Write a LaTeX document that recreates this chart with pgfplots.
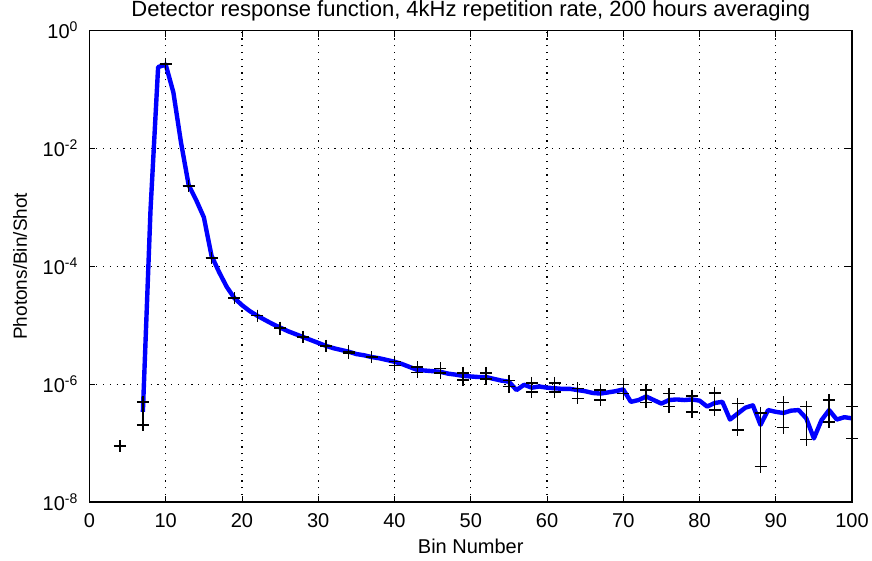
\documentclass[border=0pt]{standalone}
\usepackage{fontspec}
\setmainfont{Liberation Sans}
\usepackage{pgfplots}
\usepackage{pgfplotstable}
\pgfplotsset{compat=1.18}

% Mean detector response per bin (photons/bin/shot)
\pgfplotstableread{
bin  val
7    3.39e-7
8    8.91e-4
9    0.240
10   0.263
11   0.0891
12   0.0126
13   2.40e-3
14   1.32e-3
15   6.76e-4
16   1.51e-4
17   7.94e-5
18   4.47e-5
19   2.88e-5
20   2.19e-5
21   1.74e-5
22   1.45e-5
23   1.23e-5
24   1.05e-5
25   9.12e-6
26   7.94e-6
27   7.08e-6
28   6.31e-6
29   5.62e-6
30   5.01e-6
31   4.47e-6
32   4.07e-6
33   3.80e-6
34   3.55e-6
35   3.24e-6
36   3.09e-6
37   2.88e-6
38   2.75e-6
39   2.57e-6
40   2.40e-6
41   2.19e-6
42   1.95e-6
43   1.74e-6
44   1.70e-6
45   1.66e-6
46   1.62e-6
47   1.51e-6
48   1.45e-6
49   1.38e-6
50   1.35e-6
51   1.32e-6
52   1.32e-6
53   1.23e-6
54   1.15e-6
55   1.10e-6
56   7.94e-7
57   9.77e-7
58   8.71e-7
59   9.12e-7
60   8.71e-7
61   8.51e-7
62   8.32e-7
63   8.32e-7
64   7.94e-7
65   7.59e-7
66   7.08e-7
67   6.92e-7
68   7.24e-7
69   7.59e-7
70   8.13e-7
71   5.01e-7
72   5.37e-7
73   6.17e-7
74   5.37e-7
75   4.68e-7
76   5.37e-7
77   5.50e-7
78   5.37e-7
79   5.50e-7
80   5.25e-7
81   4.17e-7
82   4.79e-7
83   5.01e-7
84   2.51e-7
85   3.16e-7
86   3.98e-7
87   4.37e-7
88   2.04e-7
89   3.63e-7
90   3.39e-7
91   3.24e-7
92   3.55e-7
93   3.63e-7
94   2.63e-7
95   1.20e-7
96   2.45e-7
97   3.63e-7
98   2.51e-7
99   2.75e-7
100  2.63e-7
}\response

% Sampled bins: upper and lower bounds
\pgfplotstableread{
bin  hi       lo
4    8.91e-8  8.91e-8
7    5.01e-7  2.04e-7
10   0.269    0.269
13   2.29e-3  2.29e-3
16   1.38e-4  1.38e-4
19   2.88e-5  2.88e-5
22   1.45e-5  1.45e-5
25   9.12e-6  8.70e-6
28   6.31e-6  6.31e-6
31   4.47e-6  4.47e-6
34   3.60e-6  3.40e-6
37   2.88e-6  2.88e-6
40   2.40e-6  2.09e-6
43   1.95e-6  1.58e-6
46   1.86e-6  1.55e-6
49   1.55e-6  1.17e-6
52   1.55e-6  1.23e-6
55   1.15e-6  9.12e-7
58   1.05e-6  7.41e-7
61   1.05e-6  7.41e-7
64   8.51e-7  5.75e-7
67   7.94e-7  5.37e-7
70   9.77e-7  6.92e-7
73   7.94e-7  4.90e-7
76   6.92e-7  4.17e-7
79   6.31e-7  3.39e-7
82   7.08e-7  3.63e-7
85   4.68e-7  1.66e-7
88   3.24e-7  3.98e-8
91   4.90e-7  1.82e-7
94   4.17e-7  1.15e-7
97   5.37e-7  2.29e-7
100  4.17e-7  1.20e-7
}\bounds

\begin{document}
\begin{tikzpicture}
\begin{axis}[
  name=main,
  scale only axis,
  width=381.25pt, height=235.75pt,
  ymode=log,
  xmin=0, xmax=100,
  ymin=1e-8, ymax=1,
  xtick={0,10,...,100},
  ytick={1e-8,1e-6,1e-4,1e-2,1},
  yticklabels={10\textsuperscript{-8},10\textsuperscript{-6},10\textsuperscript{-4},10\textsuperscript{-2},10\textsuperscript{0}},
  minor ytick={},
  xtick pos=both, ytick pos=both,
  tick align=inside,
  major tick length=3pt,
  tick style={black, line width=0.5pt},
  axis line style={black, line width=0.6pt},
  grid=major,
  major grid style={black, line width=0.6pt, dash pattern=on 0.6pt off 2.8pt},
  font=\fontsize{9.5}{11}\selectfont,
  /pgf/number format/assume math mode=true,
  every axis title shift=0pt,
  title={Detector response function, 4kHz repetition rate, 200 hours averaging},
  title style={at={(axis description cs:0.5,1.041)}, anchor=center, inner sep=0pt,
    font=\fontsize{11}{13}\selectfont},
  xlabel={Bin Number},
  xlabel style={at={(axis description cs:0.5,-0.093)}, anchor=center, inner sep=0pt,
    font=\fontsize{10}{12}\selectfont},
  ylabel={Photons/Bin/Shot},
  ylabel style={at={(axis description cs:-0.091,0.5)}, anchor=center, inner sep=0pt},
  xticklabel style={yshift=-2pt, font=\fontsize{10}{12}\selectfont},
  yticklabel style={xshift=-2pt, font=\fontsize{10}{12}\selectfont},
]
  \addplot[color={rgb,255:red,0;green,0;blue,255}, line width=2.2pt, line join=round, no marks]
    table[x=bin, y=val] {\response};
  \addplot[black, line width=0.7pt, only marks, mark=+, mark size=3pt,
    error bars/.cd, y dir=plus, y explicit, error mark=none,
    error bar style={black, line width=0.7pt}]
    table[x=bin, y=lo, y error expr=\thisrow{hi}-\thisrow{lo}] {\bounds};
  \addplot[black, line width=0.7pt, only marks, mark=+, mark size=3pt]
    table[x=bin, y=hi] {\bounds};
\end{axis}
\pgfresetboundingbox
\path[use as bounding box] ([xshift=-44.75pt, yshift=-29pt]main.south west) rectangle ([xshift=10pt, yshift=15.25pt]main.north east);
\end{tikzpicture}
\end{document}
